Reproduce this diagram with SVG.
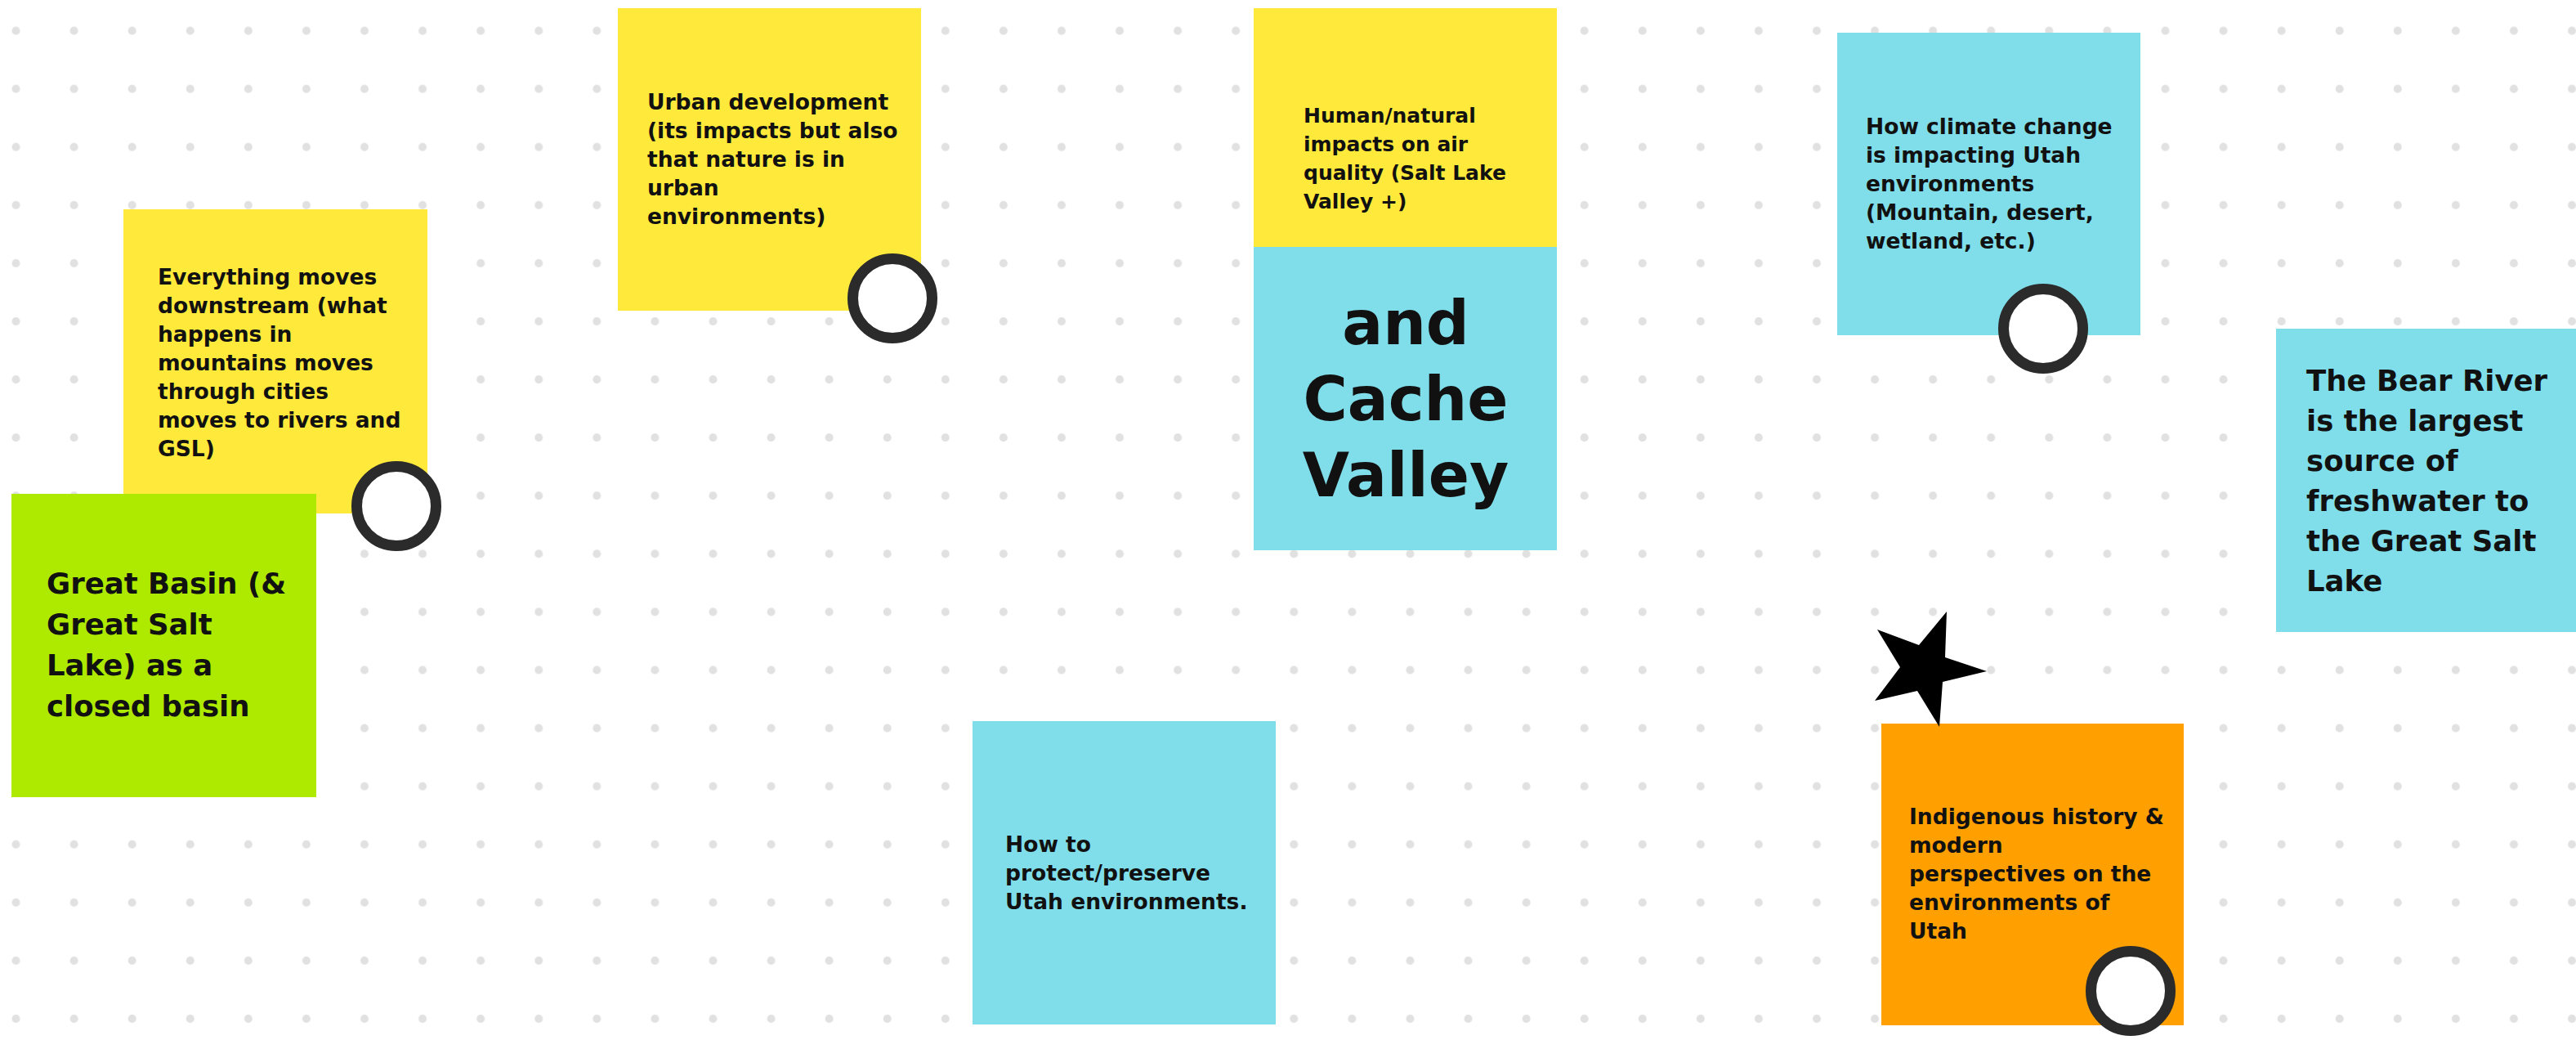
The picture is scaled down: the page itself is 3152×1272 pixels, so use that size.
<svg xmlns="http://www.w3.org/2000/svg" width="3152" height="1272" viewBox="0 0 3152 1272">
<defs>
<pattern id="dots" x="0" y="0" width="71.08" height="71.08" patternUnits="userSpaceOnUse">
<circle cx="19.5" cy="37.7" r="5" fill="#e1e1e1"/>
</pattern>
</defs>
<style>
.ny{fill:#ffe93b}
.nc{fill:#80deea}
.ng{fill:#aeea00}
.no{fill:#ffa000}
.t{font-family:"DejaVu Sans",sans-serif;font-weight:bold;font-size:26.5px;fill:#111}
.tm{font-size:25px}
.tl{font-size:35.5px}
.th{font-size:74px;text-anchor:middle}
.ring{fill:#fff;stroke:#2b2b2b;stroke-width:13}
</style>
<rect width="3152" height="1272" fill="#fff"/>
<rect width="3152" height="1272" fill="url(#dots)"/>

<g id="note-downstream">
<rect class="ny" x="151" y="256" width="372" height="372"/>
<text class="t" x="193" y="348"><tspan x="193">Everything moves</tspan><tspan x="193" dy="35">downstream (what</tspan><tspan x="193" dy="35">happens in</tspan><tspan x="193" dy="35">mountains moves</tspan><tspan x="193" dy="35">through cities</tspan><tspan x="193" dy="35">moves to rivers and</tspan><tspan x="193" dy="35">GSL)</tspan></text>
<circle class="ring" cx="485" cy="619" r="48.5"/>
</g>

<g id="note-great-basin">
<rect class="ng" x="14" y="604" width="373" height="371"/>
<text class="t tl" x="57" y="726"><tspan x="57">Great Basin (&amp;</tspan><tspan x="57" dy="50">Great Salt</tspan><tspan x="57" dy="50">Lake) as a</tspan><tspan x="57" dy="50">closed basin</tspan></text>
</g>

<g id="note-urban">
<rect class="ny" x="756" y="10" width="371" height="370"/>
<text class="t" x="792" y="134"><tspan x="792">Urban development</tspan><tspan x="792" dy="35">(its impacts but also</tspan><tspan x="792" dy="35">that nature is in</tspan><tspan x="792" dy="35">urban</tspan><tspan x="792" dy="35">environments)</tspan></text>
<circle class="ring" cx="1092" cy="365" r="48.5"/>
</g>

<g id="note-air">
<rect class="ny" x="1534" y="10" width="371" height="371"/>
<text class="t tm" x="1595" y="150"><tspan x="1595">Human/natural</tspan><tspan x="1595" dy="35">impacts on air</tspan><tspan x="1595" dy="35">quality (Salt Lake</tspan><tspan x="1595" dy="35">Valley +)</tspan></text>
</g>

<g id="note-cache">
<rect class="nc" x="1534" y="302" width="371" height="371"/>
<text class="t th" x="1720" y="421"><tspan x="1720">and</tspan><tspan x="1720" dy="93">Cache</tspan><tspan x="1720" dy="93">Valley</tspan></text>
</g>

<g id="note-climate">
<rect class="nc" x="2248" y="40" width="371" height="370"/>
<text class="t" x="2283" y="164"><tspan x="2283">How climate change</tspan><tspan x="2283" dy="35">is impacting Utah</tspan><tspan x="2283" dy="35">environments</tspan><tspan x="2283" dy="35">(Mountain, desert,</tspan><tspan x="2283" dy="35">wetland, etc.)</tspan></text>
<circle class="ring" cx="2500" cy="402" r="48.5"/>
</g>

<g id="note-bear">
<rect class="nc" x="2785" y="402" width="371" height="371"/>
<text class="t tl" x="2822" y="478"><tspan x="2822">The Bear River</tspan><tspan x="2822" dy="49">is the largest</tspan><tspan x="2822" dy="49">source of</tspan><tspan x="2822" dy="49">freshwater to</tspan><tspan x="2822" dy="49">the Great Salt</tspan><tspan x="2822" dy="49">Lake</tspan></text>
</g>

<g id="note-protect">
<rect class="nc" x="1190" y="882" width="371" height="371"/>
<text class="t" x="1230" y="1042"><tspan x="1230">How to</tspan><tspan x="1230" dy="35">protect/preserve</tspan><tspan x="1230" dy="35">Utah environments.</tspan></text>
</g>

<g id="note-indigenous">
<rect class="no" x="2302" y="885" width="370" height="369"/>
<text class="t" x="2336" y="1008"><tspan x="2336">Indigenous history &amp;</tspan><tspan x="2336" dy="35">modern</tspan><tspan x="2336" dy="35">perspectives on the</tspan><tspan x="2336" dy="35">environments of</tspan><tspan x="2336" dy="35">Utah</tspan></text>
<circle class="ring" cx="2607" cy="1212" r="48.5"/>
</g>

<g id="star">
<polygon points="2382,748 2380,804 2431,821 2377,834 2373,889 2346,845 2294,857 2325,816 2297,770 2348,789" fill="#000"/>
</g>

<g id="connectors"></g>
</svg>
